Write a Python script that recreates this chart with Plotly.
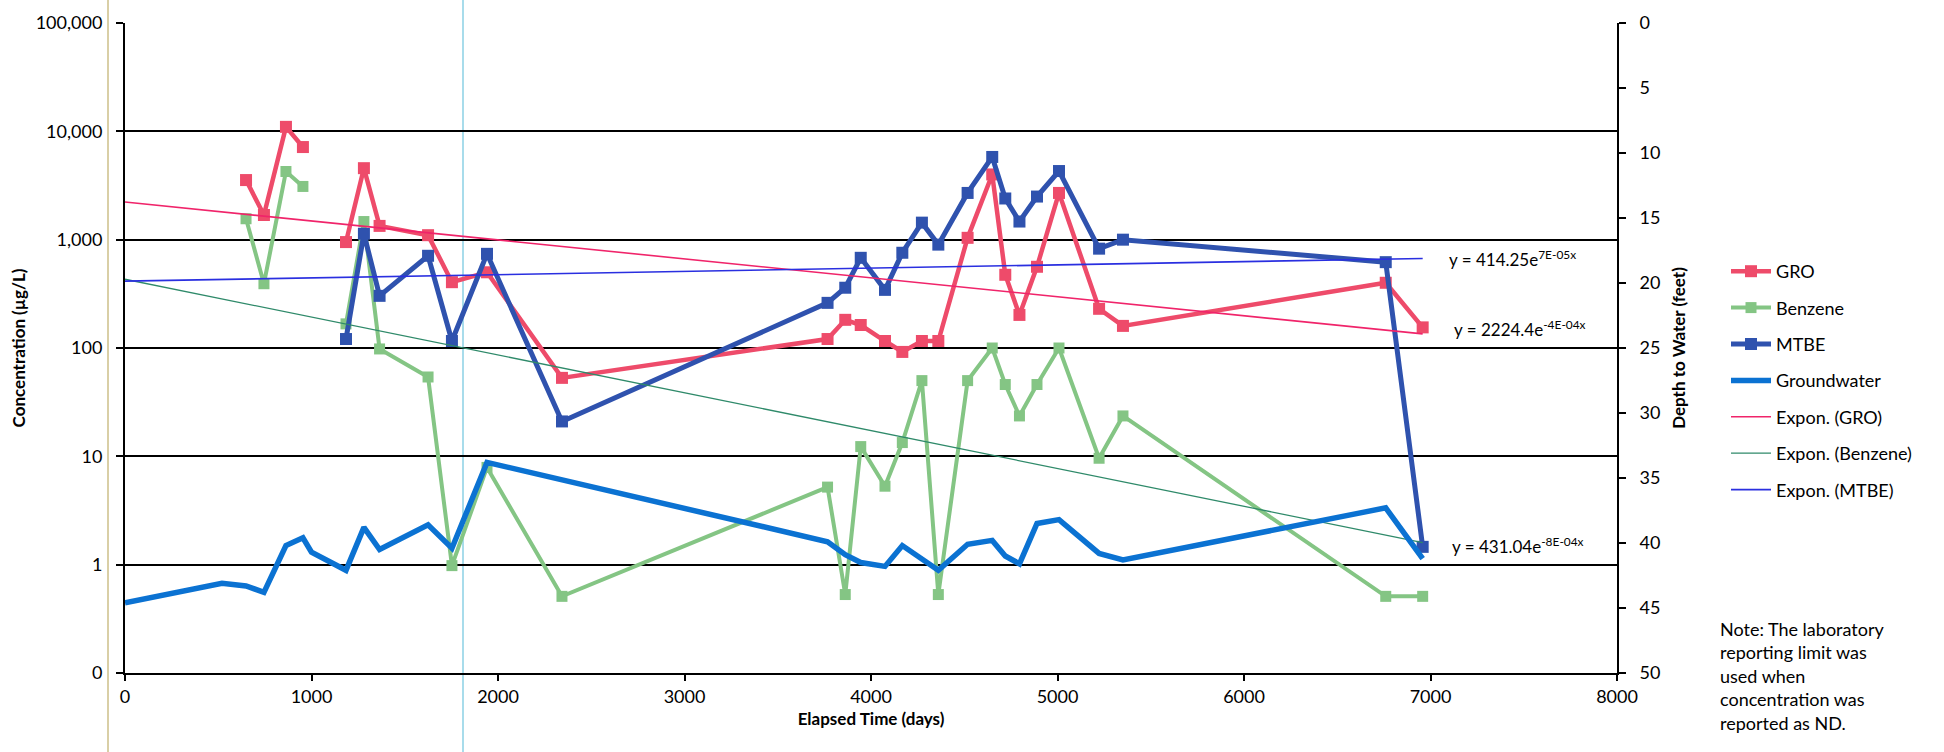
import plotly.graph_objects as go

# ---------------- data ----------------
conc_days = [649, 745, 863, 954, 1000, 1185, 1281, 1365, 1625, 1753, 1941, 2343,
             3767, 3862, 3945, 4075, 4168, 4273, 4361, 4518, 4650, 4720, 4796,
             4890, 5008, 5223, 5351, 6760, 6958]
gro = [3550, 1690, 11000, 7160, None, 950, 4570, 1340, 1100, 405, 500, 53,
       121, 182, 163, 116, 92, 116, 116, 1040, 4000, 474, 202,
       562, 2700, 230, 160, 400, 155]
benzene = [1560, 392, 4260, 3100, None, 167, 1470, 98, 54, 0.98, 7.9, 0.51,
           5.2, 0.53, 12.3, 5.3, 13.4, 50, 0.53, 50, 100, 46, 23.6,
           46, 100, 9.6, 23.6, 0.51, 0.51]
mtbe_days = [1185, 1281, 1365, 1625, 1753, 1941, 2343, 3767, 3862, 3945, 4075,
             4168, 4273, 4361, 4518, 4650, 4720, 4796, 4890, 5008, 5223, 5351,
             6760, 6958]
mtbe = [121, 1135, 303, 710, 116, 740, 21, 261, 360, 680, 344,
        757, 1436, 900, 2700, 5800, 2400, 1470, 2500, 4300, 826, 1000,
        620, 1.46]
gw_days = [0, 520, 649, 745, 863, 954, 1000, 1185, 1281, 1365, 1625, 1753, 1941,
           3767, 3862, 3945, 4075, 4168, 4361, 4518, 4650, 4720, 4796, 4890,
           5008, 5223, 5351, 6760, 6958]
gw_depth = [44.6, 43.1, 43.3, 43.8, 40.2, 39.6, 40.7, 42.1, 38.8, 40.5, 38.6, 40.4, 33.8,
            39.9, 40.9, 41.5, 41.8, 40.2, 42.1, 40.1, 39.8, 41.0, 41.6, 38.5,
            38.2, 40.8, 41.3, 37.3, 41.2]
trend_days = [0, 6958]
gro_trend = [2224, 135]
benzene_trend = [431, 1.6]
mtbe_trend = [414, 670]

conc_tickvals = [0.1, 1, 10, 100, 1000, 10000, 100000]
conc_ticktext = ["0", "1", "10", "100", "1,000", "10,000", "100,000"]
x_ticks = [0, 1000, 2000, 3000, 4000, 5000, 6000, 7000, 8000]
depth_ticks = [0, 5, 10, 15, 20, 25, 30, 35, 40, 45, 50]

eq_gro = "y = 2224.4e<sup>-4E-04x</sup>"
eq_benz = "y = 431.04e<sup>-8E-04x</sup>"
eq_mtbe = "y = 414.25e<sup>7E-05x</sup>"
note = "Note: The laboratory<br>reporting limit was<br>used when<br>concentration was<br>reported as ND."

# ---------------- styles ----------------
C_GRO = "#EE4B6A"
C_BENZ = "#84C584"
C_MTBE = "#2F52AE"
C_GW = "#0B72D2"
FONT = "Lato"

W, H = 1944, 752
L, R, T, B = 125, 327, 23, 79
PW, PH = W - L - R, H - T - B


def px_x(p):
    return (p - L) / PW


def px_y(p):
    return (H - B - p) / PH


fig = go.Figure()

fig.add_trace(go.Scatter(x=conc_days, y=gro, name="GRO", mode="lines+markers",
                         line=dict(color=C_GRO, width=4.5),
                         marker=dict(symbol="square", size=12, color=C_GRO),
                         legendgroup="a"))
fig.add_trace(go.Scatter(x=conc_days, y=benzene, name="Benzene", mode="lines+markers",
                         line=dict(color=C_BENZ, width=4),
                         marker=dict(symbol="square", size=11, color=C_BENZ),
                         legendgroup="b"))
fig.add_trace(go.Scatter(x=mtbe_days, y=mtbe, name="MTBE", mode="lines+markers",
                         line=dict(color=C_MTBE, width=5),
                         marker=dict(symbol="square", size=12, color=C_MTBE),
                         legendgroup="c"))
fig.add_trace(go.Scatter(x=gw_days, y=gw_depth, name="Groundwater", mode="lines",
                         line=dict(color=C_GW, width=5.5), yaxis="y2",
                         legendgroup="d"))
fig.add_trace(go.Scatter(x=trend_days, y=gro_trend, name="Expon. (GRO)", mode="lines",
                         line=dict(color="#F0246A", width=1.6), legendgroup="e"))
fig.add_trace(go.Scatter(x=trend_days, y=benzene_trend, name="Expon. (Benzene)", mode="lines",
                         line=dict(color="#2F8A6A", width=1.3), legendgroup="f"))
fig.add_trace(go.Scatter(x=trend_days, y=mtbe_trend, name="Expon. (MTBE)", mode="lines",
                         line=dict(color="#2A2FE0", width=1.6), legendgroup="g"))

fig.update_layout(
    width=W, height=H,
    margin=dict(l=L, r=R, t=T, b=B, autoexpand=False),
    paper_bgcolor="white", plot_bgcolor="white",
    font=dict(family=FONT, size=18, color="black"),
    showlegend=True,
    legend=dict(x=px_x(1726), y=px_y(253), xanchor="left", yanchor="top",
                font=dict(size=18, color="black"), tracegroupgap=10,
                itemwidth=40, bgcolor="rgba(0,0,0,0)", traceorder="grouped"),
    xaxis=dict(range=[0, 8000], tickvals=x_ticks, showgrid=False, zeroline=False,
               showline=True, linecolor="black", linewidth=2,
               ticks="outside", ticklen=6, tickcolor="black", tickwidth=1.5,
               tickfont=dict(size=18),
               title=dict(text="Elapsed Time (days)", font=dict(size=17, weight="bold"),
                          standoff=8)),
    yaxis=dict(type="log", range=[-1, 5], tickvals=conc_tickvals, ticktext=conc_ticktext,
               showgrid=True, gridcolor="black", gridwidth=2, zeroline=False,
               showline=True, linecolor="black", linewidth=2,
               ticks="outside", ticklen=7, tickcolor="black", tickwidth=1.5,
               tickfont=dict(size=18), ticklabelstandoff=10,
               title=dict(text="Concentration (µg/L)", font=dict(size=17, weight="bold"),
                          standoff=6)),
    yaxis2=dict(overlaying="y", side="right", range=[50, 0], tickvals=depth_ticks,
                showgrid=False, zeroline=False,
                showline=True, linecolor="black", linewidth=2,
                ticks="outside", ticklen=7, tickcolor="black", tickwidth=1.5,
                tickfont=dict(size=18), ticklabelstandoff=10,
                title=dict(text="Depth to Water (feet)", font=dict(size=17, weight="bold"),
                           standoff=14)),
)

ann_font = dict(family=FONT, size=17, color="black")
fig.add_annotation(x=px_x(1447), y=px_y(258), xref="paper", yref="paper", text=eq_mtbe,
                   showarrow=False, xanchor="left", yanchor="middle", font=ann_font)
fig.add_annotation(x=px_x(1452), y=px_y(328), xref="paper", yref="paper", text=eq_gro,
                   showarrow=False, xanchor="left", yanchor="middle", font=ann_font)
fig.add_annotation(x=px_x(1450), y=px_y(545), xref="paper", yref="paper", text=eq_benz,
                   showarrow=False, xanchor="left", yanchor="middle", font=ann_font)
fig.add_annotation(x=px_x(1718), y=px_y(676), xref="paper", yref="paper", text=note,
                   showarrow=False, xanchor="left", yanchor="middle", align="left",
                   font=dict(family=FONT, size=18, color="black"))

# scan edge artefacts
fig.add_shape(type="line", xref="paper", yref="paper", x0=px_x(463), x1=px_x(463),
              y0=px_y(752), y1=px_y(0), line=dict(color="#A8DCEB", width=2), layer="below")
fig.add_shape(type="line", xref="paper", yref="paper", x0=px_x(108), x1=px_x(108),
              y0=px_y(752), y1=px_y(0), line=dict(color="#D9CFA6", width=2), layer="below")

fig.write_html("out.html")
